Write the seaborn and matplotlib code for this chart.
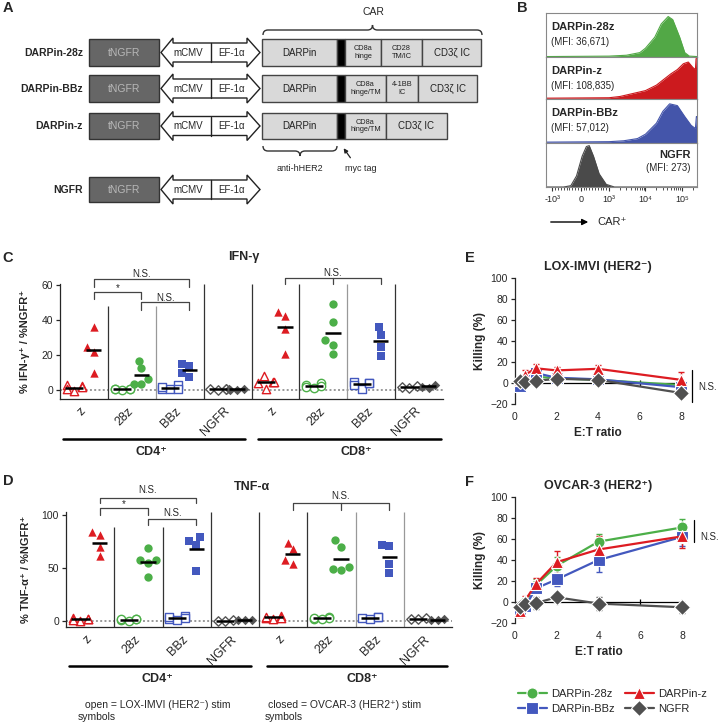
import numpy as np
import pandas as pd
import seaborn as sns
import matplotlib.pyplot as plt
from matplotlib.patches import Rectangle, Polygon, PathPatch
from matplotlib.path import Path
from matplotlib.transforms import ScaledTranslation

# ---------------- data ----------------
# B: histogram outlines, CAR signal vs relative height
hist_28z_x = [-1500, 1000, 3000, 7000, 10000, 18000, 27000, 42000, 56000, 87000, 120000, 160000, 260000]
hist_28z_y = [0.01, 0.02, 0.04, 0.10, 0.20, 0.45, 0.75, 0.92, 0.85, 0.45, 0.10, 0.02, 0.01]
hist_z_x = [-1500, 1000, 2000, 4000, 10000, 20000, 30000, 50000, 75000, 110000, 150000, 200000, 235000, 245000, 260000]
hist_z_y = [0.02, 0.03, 0.06, 0.12, 0.20, 0.33, 0.45, 0.60, 0.70, 0.84, 0.88, 0.75, 0.70, 0.96, 0.96]
hist_bbz_x = [-1500, 1000, 2500, 6000, 10000, 20000, 30000, 46000, 75000, 120000, 180000, 235000, 250000, 260000]
hist_bbz_y = [0.02, 0.03, 0.05, 0.10, 0.20, 0.45, 0.72, 0.89, 0.85, 0.60, 0.40, 0.33, 0.60, 0.60]
hist_ngfr_x = [-1500, -600, -350, -150, 50, 200, 300, 450, 650, 900, 1400, 260000]
hist_ngfr_y = [0.0, 0.0, 0.03, 0.25, 0.70, 0.92, 0.94, 0.70, 0.30, 0.06, 0.0, 0.0]
b_names = ['DARPin-28z', 'DARPin-z', 'DARPin-BBz', 'NGFR']
b_mfi = ['36,671', '108,835', '57,012', '273']

# C / D: cytokine positive cells
cats = ['CD4 z', 'CD4 28z', 'CD4 BBz', 'CD4 NGFR', 'CD8 z', 'CD8 28z', 'CD8 BBz', 'CD8 NGFR']
cat_labels = ['z', '28z', 'BBz', 'NGFR'] * 2

ifng_open = {
    'CD4 z': [3.0, 0.5, 2.5, -0.5, 2.0],
    'CD4 28z': [0.5, 0.0, 1.0, 0.5, 0.8],
    'CD4 BBz': [3.0, 1.0, 0.5, 2.0, 1.0],
    'CD4 NGFR': [1.0, 0.5, 1.0, 0.0],
    'CD8 z': [8.0, 5.0, 1.0, 4.0, 5.0],
    'CD8 28z': [4.0, 3.0, 1.5, 2.5, 2.0],
    'CD8 BBz': [4.5, 1.0, 4.0, 3.0, 4.0],
    'CD8 NGFR': [2.0, 2.5, 1.5],
}
ifng_closed = {
    'CD4 z': [36.0, 25.0, 22.0, 10.0],
    'CD4 28z': [17.0, 12.5, 6.5, 3.5, 3.5],
    'CD4 BBz': [15.0, 14.0, 10.0, 7.5],
    'CD4 NGFR': [0.5, 0.3, 0.6, 0.4],
    'CD8 z': [45.0, 42.5, 35.0, 21.0],
    'CD8 28z': [49.5, 39.0, 28.5, 26.0, 21.0],
    'CD8 BBz': [36.0, 31.5, 24.5, 19.5],
    'CD8 NGFR': [3.0, 1.5, 2.0],
}
tnfa_open = {
    'CD4 z': [2.0, 0.0, 3.0, 1.0, 2.0],
    'CD4 28z': [1.0, 2.0, 1.5, 0.5, 1.5],
    'CD4 BBz': [5.0, 2.0, 3.0, 4.0, 1.0],
    'CD4 NGFR': [0.5, 1.0, 0.0],
    'CD8 z': [3.0, 5.0, 2.0, 4.0, 3.0],
    'CD8 28z': [2.0, 3.5, 2.5, 3.0, 1.5],
    'CD8 BBz': [3.0, 4.0, 2.0, 3.5],
    'CD8 NGFR': [2.5, 1.5, 2.0],
}
tnfa_closed = {
    'CD4 z': [83.5, 81.5, 70.0, 61.0],
    'CD4 28z': [68.5, 58.0, 57.5, 55.0, 41.5],
    'CD4 BBz': [79.0, 75.0, 72.0, 47.0],
    'CD4 NGFR': [1.0, 0.8, 1.2],
    'CD8 z': [74.0, 67.5, 58.0, 54.0],
    'CD8 28z': [76.0, 70.0, 51.0, 49.0, 48.0],
    'CD8 BBz': [71.5, 70.5, 54.0, 45.0],
    'CD8 NGFR': [1.0, 1.5, 0.8],
}

# E / F: killing (%) vs E:T ratio, mean and error
ratios = [0.25, 0.5, 1, 2, 4, 8]
constructs = ['DARPin-28z', 'DARPin-BBz', 'DARPin-z', 'NGFR']
lox_mean = {'DARPin-28z': [1, 2, 6, 4.5, 3, -2],
            'DARPin-BBz': [-3, 3, 9.5, 5, 3.5, -4],
            'DARPin-z': [3, 8, 14, 12, 13.5, 3],
            'NGFR': [2, 0.5, 2, 4, 3, -9.5]}
lox_err = {'DARPin-28z': [3, 3, 4, 3, 3, 4],
           'DARPin-BBz': [4, 4, 5, 3, 3, 5],
           'DARPin-z': [3, 4, 4, 3, 4, 7],
           'NGFR': [2, 2, 3, 2, 2, 3]}
ov_mean = {'DARPin-28z': [-5, 0, 16, 34.5, 57.5, 71],
           'DARPin-BBz': [-7.5, -4, 13, 21.5, 40, 62],
           'DARPin-z': [-9, 2, 17, 38, 50, 62.5],
           'NGFR': [-5, -1.5, -1, 4.5, -1.5, -5]}
ov_err = {'DARPin-28z': [4, 4, 6, 8, 7, 8],
          'DARPin-BBz': [3, 3, 4, 6, 11, 9],
          'DARPin-z': [5, 4, 6, 11, 13, 11],
          'NGFR': [3, 4, 6, 4, 6, 5]}

# ---------------- style ----------------
sns.set_style("ticks")
plt.rcParams['font.family'] = ['Liberation Sans', 'DejaVu Sans']
plt.rcParams['font.size'] = 7
plt.rcParams['axes.linewidth'] = 0.9

GREEN, RED, BLUE, GRAY = '#4caf48', '#dd1c22', '#4358be', '#555555'
con_color = {'z': RED, '28z': GREEN, 'BBz': BLUE, 'NGFR': GRAY}
con_marker = {'z': '^', '28z': 'o', 'BBz': 's', 'NGFR': 'D'}
con_size = {'z': 6.0, '28z': 6.0, 'BBz': 5.8, 'NGFR': 4.8}
kill_colors = {'DARPin-28z': GREEN, 'DARPin-BBz': BLUE, 'DARPin-z': RED, 'NGFR': '#505050'}
kill_markers = {'DARPin-28z': 'o', 'DARPin-BBz': 's', 'DARPin-z': '^', 'NGFR': 'D'}

W, H = 718, 725
fig = plt.figure(figsize=(W / 100, H / 100), dpi=100)


def box(x0, y0, x1, y1):
    # pixel box (origin top-left) -> figure rect
    return [x0 / W, 1 - y1 / H, (x1 - x0) / W, (y1 - y0) / H]


# ---------------- B: histograms ----------------
b_rows = [(13, 57), (57, 99), (99, 143), (143, 187)]
b_hist = [(hist_28z_x, hist_28z_y, '#52a846'), (hist_z_x, hist_z_y, '#cc1a1e'),
          (hist_bbz_x, hist_bbz_y, '#4455aa'), (hist_ngfr_x, hist_ngfr_y, '#4a4a4a')]
for i, ((top, bot), (hx, hy, col)) in enumerate(zip(b_rows, b_hist)):
    ax = fig.add_axes(box(546, top, 697, bot))
    ax.fill_between(hx, 0, hy, color=col, lw=0)
    ax.plot(hx, hy, color=col, lw=0.8)
    ax.set_xscale('symlog', linthresh=1000, linscale=0.7)
    ax.set_xlim(-1500, 2.6e5)
    ax.set_ylim(0, 1)
    ax.set_yticks([])
    for s in ax.spines.values():
        s.set_color('#888888')
        s.set_linewidth(0.8)
    if i < 3:
        ax.set_xticks([])
        ax.xaxis.set_minor_locator(plt.NullLocator())
    else:
        ax.set_xticks([-1000, 0, 1000, 1e4, 1e5])
        ax.set_xticklabels(['-10³', '0', '10³', '10⁴', '10⁵'])
        minor = ([-100 * k for k in range(1, 10)] + [100 * k for k in range(1, 10)]
                 + [k * 1e3 for k in range(2, 10)] + [k * 1e4 for k in range(2, 10)] + [2e5])
        ax.set_xticks(minor, minor=True)
        ax.tick_params(axis='x', which='major', length=3, width=0.8, labelsize=6.5, pad=3, color='#333')
        ax.tick_params(axis='x', which='minor', length=1.8, width=0.6, color='#333')


# ---------------- C / D: cytokines ----------------
def long_table(open_d, closed_d):
    rows = []
    for stim, d in (('open', open_d), ('closed', closed_d)):
        for cat, vals in d.items():
            for v in vals:
                rows.append({'cat': cat, 'construct': cat.split()[1], 'stim': stim, 'value': v,
                             'pos': cats.index(cat) + (-0.2 if stim == 'open' else 0.2)})
    return pd.DataFrame(rows)


def bracket(ax, x0, x1, ytop, yend, label, ty, xm=None):
    ax.plot([x0, x0, x1, x1], [yend, ytop, ytop, yend], color='#444', lw=0.9, clip_on=False)
    if xm is not None:
        ax.plot([xm, xm], [ytop, yend], color='#444', lw=0.9, clip_on=False)
    ax.text((x0 + x1) / 2 if xm is None else xm, ty, label, ha='center', va='center',
            fontsize=7, clip_on=False)


def cyto_panel(ax, open_d, closed_d, ymin, ymax, yticks, sep_tops, sep_cols, ylabel):
    df = long_table(open_d, closed_d)
    for con in ['z', '28z', 'BBz', 'NGFR']:
        col = con_color[con]
        sub = df[df['construct'] == con]
        n0 = len(ax.collections)
        sns.swarmplot(data=sub, x='pos', y='value', native_scale=True, orient='x',
                      color=col, marker=con_marker[con], size=con_size[con], linewidth=0,
                      warn_thresh=1.0, ax=ax)
        # open symbols = LOX-IMVI stimulation (left slot of each category)
        for c in ax.collections[n0:]:
            off = c.get_offsets()
            if len(off) and off[0, 0] - np.round(off[0, 0]) < 0:
                c.set_facecolor('white')
                c.set_edgecolor(col)
                c.set_linewidth(1.0)
    means = df.groupby(['pos', 'stim'])['value'].mean()
    for (pos, stim), m in means.items():
        hw = 0.19 if stim == 'open' else 0.16
        ax.hlines(m, pos - hw, pos + hw, color='black', lw=1.8, zorder=6)
    ax.axhline(0, color='#9a9a9a', lw=1.4, ls=(0, (1, 1.2)), zorder=0)
    ax.vlines(np.arange(7) + 0.5, ymin, sep_tops, colors=sep_cols, lw=0.9, zorder=0)
    ax.set_xlim(-0.5, 7.5)
    ax.set_ylim(ymin, ymax)
    ax.set_yticks(yticks)
    ax.set_xticks(range(8))
    ax.tick_params(axis='x', length=0, labelbottom=False)
    # rotated category names under each column
    shift = ax.get_xaxis_transform() + ScaledTranslation(0.04, -0.06, fig.dpi_scale_trans)
    for i, lab in enumerate(cat_labels):
        ax.text(i, 0, lab, transform=shift, rotation=45, ha='right', va='top', fontsize=9)
    ax.tick_params(axis='y', length=3, width=0.9, labelsize=7.5, pad=2)
    ax.spines[['top', 'right']].set_visible(False)
    ax.set_xlabel('')
    ax.set_ylabel(ylabel, fontweight='bold', fontsize=8, labelpad=8)


axC = fig.add_axes(box(60, 283.9, 443, 399))
cyto_panel(axC, ifng_open, ifng_closed, -5, 60.8, [0, 20, 40, 60],
           [48, 48, 60.8, 60.8, 60.8, 60.8, 60.8],
           ['#333', '#999', '#333', '#333', '#333', '#999', '#333'],
           '% IFN-γ⁺ / %NGFR⁺')
bracket(axC, 0.2, 2.2, 63.6, 59.0, 'N.S.', 66.4)
bracket(axC, 0.2, 1.2, 56.2, 52.2, '*', 58.2)
bracket(axC, 1.2, 2.2, 50.5, 45.9, 'N.S.', 52.6)
bracket(axC, 4.2, 6.2, 64.2, 60.7, 'N.S.', 66.8, xm=5.2)

axD = fig.add_axes(box(66, 512.3, 452, 627.4))
cyto_panel(axD, tnfa_open, tnfa_closed, -6, 102.5, [0, 50, 100],
           [88.7, 88.7, 102.5, 102.5, 102.5, 102.5, 102.5],
           ['#333', '#333', '#333', '#333', '#333', '#999', '#999'],
           '% TNF-α⁺ / %NGFR⁺')
bracket(axD, 0.2, 2.2, 116, 111.3, 'N.S.', 123.8)
bracket(axD, 0.2, 1.2, 106.6, 100, '*', 110.5)
bracket(axD, 1.2, 2.2, 96.2, 90.6, 'N.S.', 102.2)
bracket(axD, 4.2, 6.2, 111.3, 104.7, 'N.S.', 118.0, xm=5.2)


# ---------------- E / F: killing ----------------
def kill_panel(ax, means, errs, title, legend):
    rows = []
    for con in constructs:
        for r, m in zip(ratios, means[con]):
            rows.append({'ratio': r, 'kill': m, 'construct': con})
        ax.errorbar(ratios, means[con], yerr=errs[con], fmt='none', ecolor=kill_colors[con],
                    elinewidth=1, capsize=2.5, capthick=1, zorder=1, clip_on=False)
    df = pd.DataFrame(rows)
    sns.lineplot(data=df, x='ratio', y='kill', hue='construct', style='construct',
                 hue_order=constructs, style_order=constructs, palette=kill_colors,
                 markers=kill_markers, dashes=False, markersize=8, markeredgecolor='white',
                 markeredgewidth=0.8, linewidth=1.6, legend=legend, clip_on=False, zorder=3, ax=ax)
    ax.axhline(0, color='black', lw=0.9, zorder=2)
    ax.vlines([2, 4, 6, 8], -2.5, 2.5, color='black', lw=0.9, zorder=2)
    ax.set_xlim(0, 8)
    ax.set_ylim(-20, 100)
    ax.set_xticks([0, 2, 4, 6, 8])
    ax.set_yticks(range(-20, 101, 20))
    ax.spines[['top', 'right', 'bottom']].set_visible(False)
    ax.tick_params(axis='x', length=0, pad=5.5, labelsize=7.5)
    ax.tick_params(axis='y', length=3, width=0.9, labelsize=7.5, pad=2)
    ax.set_xlabel('E:T ratio', fontweight='bold', fontsize=8.5, labelpad=4)
    ax.set_ylabel('Killing (%)', fontweight='bold', fontsize=8.5, labelpad=3)
    ax.set_title(title, fontweight='bold', fontsize=9, pad=6)


axE = fig.add_axes(box(515, 278, 681, 404))
kill_panel(axE, lox_mean, lox_err, 'LOX-IMVI (HER2⁻)', False)
axF = fig.add_axes(box(515, 497, 682, 623))
kill_panel(axF, ov_mean, ov_err, 'OVCAR-3 (HER2⁺)', True)
sns.move_legend(axF, 'upper left', bbox_to_anchor=(508 / W, 1 - 679 / H),
                bbox_transform=fig.transFigure, ncol=2, frameon=False, title=None,
                fontsize=8, handlelength=2.6, columnspacing=0.9, labelspacing=0.45,
                handletextpad=0.4)

# ---------------- overlay: schematic A and annotations ----------------
ov = fig.add_axes([0, 0, 1, 1])
ov.set_xlim(0, W)
ov.set_ylim(H, 0)
ov.set_axis_off()

for letter, (lx, ly) in zip('ABCDEF', [(8, 8), (522, 8), (8, 258), (8, 481), (470, 258), (470, 482)]):
    ov.text(lx, ly, letter, fontsize=10.5, fontweight='bold', ha='center', va='center')


def brace(x0, x1, y_end, y_line, y_tip, r=5):
    xm = (x0 + x1) / 2
    verts = [(x0, y_end), (x0, y_line), (x0 + r, y_line), (xm - r, y_line), (xm, y_line), (xm, y_tip),
             (xm, y_line), (xm + r, y_line), (x1 - r, y_line), (x1, y_line), (x1, y_end)]
    codes = [Path.MOVETO, Path.CURVE3, Path.CURVE3, Path.LINETO, Path.CURVE3, Path.CURVE3,
             Path.CURVE3, Path.CURVE3, Path.LINETO, Path.CURVE3, Path.CURVE3]
    ov.add_patch(PathPatch(Path(verts, codes), fill=False, lw=1, ec='#333'))


def dbl_arrow(c):
    pts = [(161, c), (173, c - 14.5), (173, c - 9.5), (247, c - 9.5), (247, c - 14.5), (260, c),
           (247, c + 14.5), (247, c + 9.5), (173, c + 9.5), (173, c + 14.5)]
    ov.add_patch(Polygon(pts, closed=True, fc='white', ec='#222', lw=1))
    ov.plot([211, 211], [c - 9.5, c + 9.5], color='#222', lw=1)
    ov.text(188, c, 'mCMV', ha='center', va='center', fontsize=7)
    ov.text(232, c, 'EF-1α', ha='center', va='center', fontsize=7)


def seg(x0, x1, y0, y1, label, fs=7, fc='#d9d9d9'):
    ov.add_patch(Rectangle((x0, y0), x1 - x0, y1 - y0, fc=fc, ec='#444', lw=1))
    if label:
        ov.text((x0 + x1) / 2, (y0 + y1) / 2, label, ha='center', va='center', fontsize=fs,
                linespacing=1.1, color='#222')


a_rows = [('DARPin-28z', 39, 66, [(337, 345, ''), (345, 381, 'CD8a\nhinge'),
                                  (381, 422, 'CD28\nTM/IC'), (422, 481, 'CD3ζ IC')]),
          ('DARPin-BBz', 75, 102, [(337, 345, ''), (345, 386, 'CD8a\nhinge/TM'),
                                   (386, 418, '4-1BB\nIC'), (418, 477, 'CD3ζ IC')]),
          ('DARPin-z', 113, 139, [(337, 345, ''), (345, 386, 'CD8a\nhinge/TM'), (386, 447, 'CD3ζ IC')]),
          ('NGFR', 177, 202, [])]
for name, y0, y1, parts in a_rows:
    c = (y0 + y1) / 2
    ov.text(83, c, name, ha='right', va='center', fontsize=7.5, fontweight='bold')
    ov.add_patch(Rectangle((89, y0), 70, y1 - y0, fc='#666666', ec='#333', lw=1))
    ov.text(124, c, 'tNGFR', ha='center', va='center', fontsize=7.5, color='#b8b8b8')
    dbl_arrow(c)
    if parts:
        seg(262, 337, y0, y1, 'DARPin')
        for x0, x1, lab in parts:
            if lab == '':
                seg(x0, x1, y0, y1, '', fc='black')
            else:
                seg(x0, x1, y0, y1, lab, fs=5.3 if '\n' in lab else 7)

brace(263, 482, 35, 30, 25)
ov.text(373, 12, 'CAR', ha='center', va='center', fontsize=7.5)
brace(263, 337, 146, 151, 156)
ov.text(300, 168, 'anti-hHER2', ha='center', va='center', fontsize=6.5)
ov.text(361, 168, 'myc tag', ha='center', va='center', fontsize=6.5)
ov.annotate('', xy=(342, 146), xytext=(352, 160),
            arrowprops=dict(arrowstyle='-|>', lw=0.9, color='#222', mutation_scale=6))

# B labels
for name, mfi, (top, bot) in zip(b_names, b_mfi, b_rows):
    if name == 'NGFR':
        ov.text(691, top + 12, name, ha='right', va='center', fontsize=8, fontweight='bold')
        ov.text(691, top + 25, '(MFI: ' + mfi + ')', ha='right', va='center', fontsize=7)
    else:
        ov.text(551, top + 14, name, ha='left', va='center', fontsize=8, fontweight='bold')
        ov.text(551, top + 29, '(MFI: ' + mfi + ')', ha='left', va='center', fontsize=7)
ov.annotate('', xy=(591, 222), xytext=(548, 222),
            arrowprops=dict(arrowstyle='-|>', lw=1, color='black', mutation_scale=9))
ov.text(597, 222, 'CAR⁺', ha='left', va='center', fontsize=8)

# titles of C / D
ov.text(244, 257, 'IFN-γ', ha='center', va='center', fontsize=9, fontweight='bold')
ov.text(252, 487, 'TNF-α', ha='center', va='center', fontsize=9, fontweight='bold')

# group bars under C and D
for yb, yt, spans in [(439, 452, [(63, 245, 151, 'CD4⁺'), (258, 441, 356, 'CD8⁺')]),
                      (666, 679, [(69, 251, 157, 'CD4⁺'), (267, 447, 362, 'CD8⁺')])]:
    for x0, x1, xt, lab in spans:
        ov.plot([x0, x1], [yb, yb], color='black', lw=1.8)
        ov.text(xt, yt, lab, ha='center', va='center', fontsize=9, fontweight='bold')

ov.text(85, 705, 'open = LOX-IMVI (HER2⁻) stim', ha='left', va='center', fontsize=7.5)
ov.text(78, 717, 'symbols', ha='left', va='center', fontsize=7.5)
ov.text(268, 705, 'closed = OVCAR-3 (HER2⁺) stim', ha='left', va='center', fontsize=7.5)
ov.text(265, 717, 'symbols', ha='left', va='center', fontsize=7.5)

# N.S. markers next to E / F
ov.plot([692, 692], [370, 402], color='black', lw=0.9)
ov.text(698, 387, 'N.S.', ha='left', va='center', fontsize=7)
ov.plot([694, 694], [520, 542], color='black', lw=0.9)
ov.text(700, 537, 'N.S.', ha='left', va='center', fontsize=7)

fig.savefig('out.png', dpi=100)
